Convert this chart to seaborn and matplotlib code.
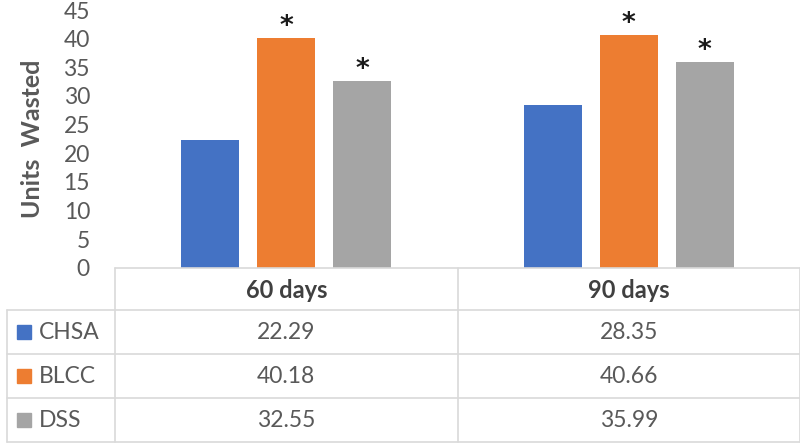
import numpy as np
import pandas as pd
import matplotlib
matplotlib.use('Agg')
import matplotlib.pyplot as plt
import seaborn as sns

periods = ['60 days', '90 days']
methods = ['CHSA', 'BLCC', 'DSS']
chsa = [22.29, 28.35]
blcc = [40.18, 40.66]
dss = [32.55, 35.99]
stars = {'CHSA': [False, False], 'BLCC': [True, True], 'DSS': [True, True]}
colors = ['#4472C4', '#ED7D31', '#A5A5A5']

df = pd.DataFrame({
    'period': periods * 3,
    'method': sum([[m] * 2 for m in methods], []),
    'units': chsa + blcc + dss,
})

sns.set_style('white')
plt.rcParams['font.family'] = ['Lato', 'DejaVu Sans']
txt = '#595959'
grid = '#D9D9D9'
fs = 16.5

fig = plt.figure(figsize=(8, 4.46), dpi=100)
W, H = 800, 446
ax = fig.add_axes([115 / W, (H - 268) / H, 685 / W, 258 / H])

sns.barplot(data=df, x='period', y='units', hue='method', order=periods,
            hue_order=methods, palette=colors, saturation=1, width=0.667,
            gap=0.237, linewidth=0, legend=False, ax=ax)
ax.set_xlim(-0.5, 1.5)
ax.set_ylim(0, 45)
ax.set_yticks(np.arange(0, 46, 5))
ax.set_xticks([])
ax.set_xlabel('')
ax.set_ylabel('Units  Wasted', fontsize=18, fontweight='bold', color=txt, labelpad=14)
ax.tick_params(axis='y', labelsize=fs, labelcolor=txt, length=0, pad=18)
for s in ax.spines.values():
    s.set_visible(False)

for cont, m in zip(ax.containers, methods):
    for bar, flag in zip(cont, stars[m]):
        if flag:
            ax.text(bar.get_x() + bar.get_width() / 2, bar.get_height() + 1.9, '*',
                    ha='center', va='center', fontsize=19, fontweight='bold', color='#1a1a1a',
                    family='DejaVu Sans')

# data table beneath the chart
tb = fig.add_axes([115 / W, (H - 444) / H, 685 / W, 176 / H])
tb.set_xlim(-0.5, 1.5)
tb.set_ylim(4, 0)
tb.axis('off')
left = -0.5 - 108 / 342.5
rows = [0, 0.955, 1.955, 2.955, 3.955]
tb.plot([-0.5, 1.5], [0, 0], color=grid, lw=1.2, clip_on=False)
for y in rows[1:]:
    tb.plot([left, 1.5], [y, y], color=grid, lw=1.2, clip_on=False)
for x in [-0.5, 0.5, 1.5]:
    tb.plot([x, x], [0, rows[-1]], color=grid, lw=1.2, clip_on=False)
tb.plot([left, left], [rows[1], rows[-1]], color=grid, lw=1.2, clip_on=False)

for i, p in enumerate(periods):
    tb.text(i, rows[0] + 0.5, p, ha='center', va='center', fontsize=fs + 0.5,
            fontweight='bold', color='#404040')
vals = [chsa, blcc, dss]
for r, (m, c, v) in enumerate(zip(methods, colors, vals)):
    yc = (rows[r + 1] + rows[r + 2]) / 2
    tb.add_patch(plt.Rectangle((left + 10 / 342.5, yc - 0.16), 14 / 342.5, 0.32,
                               color=c, clip_on=False))
    tb.text(left + 32 / 342.5, yc, m, ha='left', va='center', fontsize=fs, color=txt)
    for i in range(len(periods)):
        tb.text(i, yc, f'{v[i]:.2f}', ha='center', va='center', fontsize=fs, color=txt)

fig.savefig('out.png', dpi=100)
